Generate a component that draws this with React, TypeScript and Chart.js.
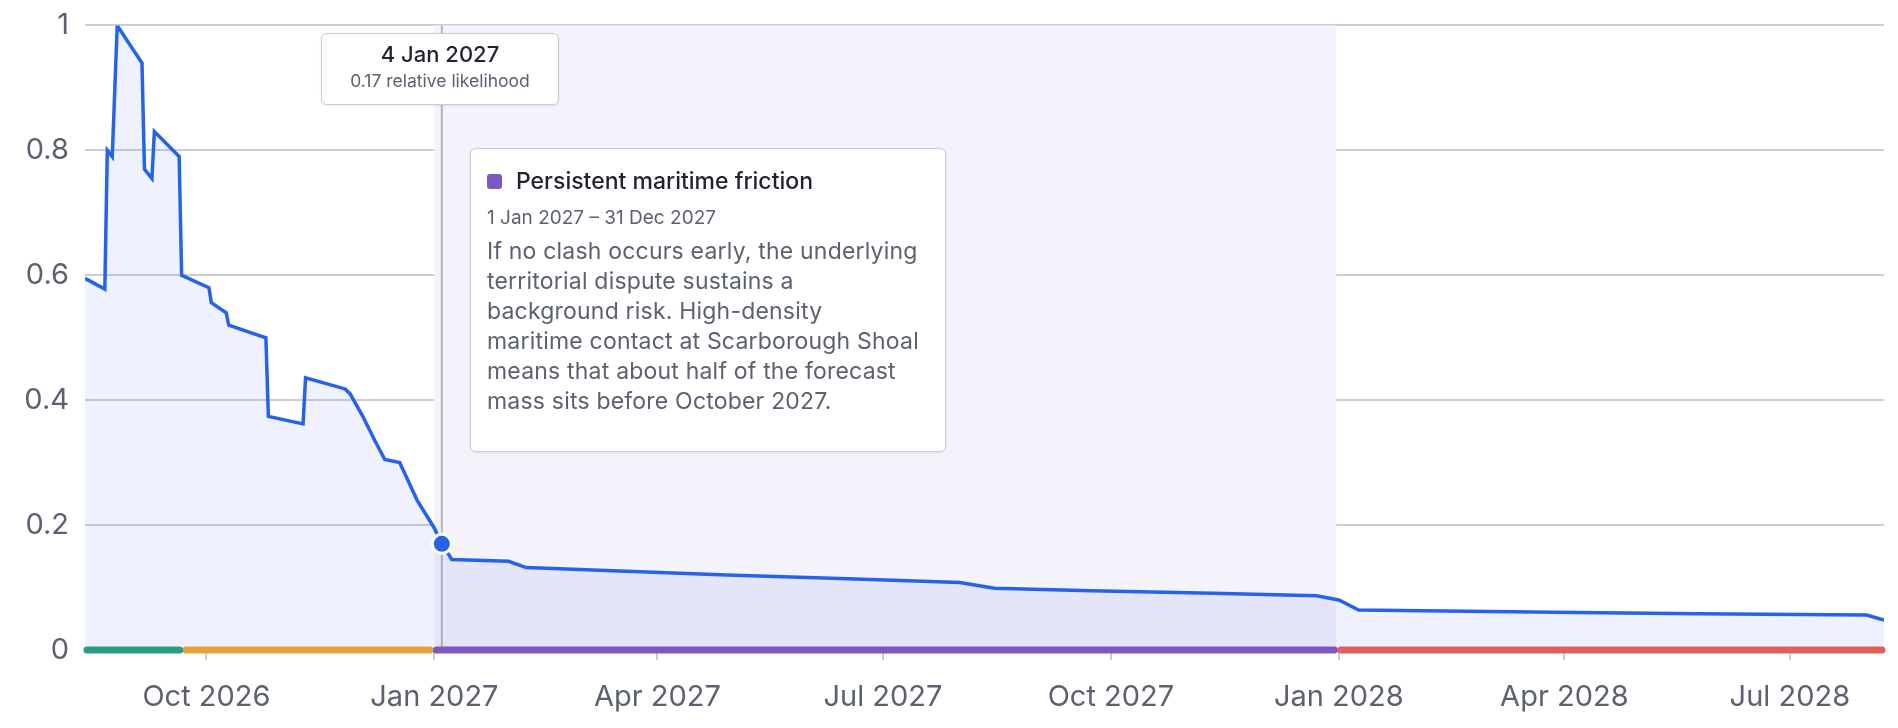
import React, { useEffect, useRef } from 'react';
import { Chart, registerables } from 'chart.js';

Chart.register(...registerables);

const dates = [
  '2026-08-13', '2026-08-21', '2026-08-22', '2026-08-24', '2026-08-26', '2026-09-05', '2026-09-06',
  '2026-09-09', '2026-09-10', '2026-09-20', '2026-09-21', '2026-10-02', '2026-10-03', '2026-10-09',
  '2026-10-10', '2026-10-25', '2026-10-26', '2026-11-09', '2026-11-10', '2026-11-26', '2026-11-28',
  '2026-12-03', '2026-12-08', '2026-12-12', '2026-12-18', '2026-12-20', '2026-12-25', '2027-01-01',
  '2027-01-04', '2027-01-08', '2027-01-31', '2027-02-07', '2027-04-29', '2027-06-17', '2027-08-01',
  '2027-08-15', '2027-09-23', '2027-11-11', '2027-12-23', '2028-01-01', '2028-01-09', '2028-04-06',
  '2028-05-25', '2028-08-01', '2028-08-08',
];
const likelihood = [
  0.595, 0.578, 0.8, 0.79, 1.0, 0.94, 0.77,
  0.755, 0.83, 0.79, 0.6, 0.58, 0.556, 0.54,
  0.52, 0.5, 0.374, 0.362, 0.436, 0.418, 0.41,
  0.375, 0.335, 0.305, 0.3, 0.283, 0.24, 0.195,
  0.17, 0.145, 0.142, 0.132, 0.12, 0.114, 0.108,
  0.099, 0.095, 0.091, 0.087, 0.08, 0.064, 0.06,
  0.058, 0.056, 0.048,
];
const phaseNames = ['Early clash', 'Escalation window', 'Persistent maritime friction', 'Long tail'];
const phaseStarts = ['2026-08-13', '2026-09-22', '2027-01-01', '2028-01-01'];
const phaseEnds = ['2026-09-21', '2026-12-31', '2027-12-31', '2028-08-08'];
const phaseColors = ['#2a9d83', '#e3a33a', '#7e57c2', '#e0605a'];
const tickDates = ['2026-10-01', '2027-01-01', '2027-04-01', '2027-07-01', '2027-10-01', '2028-01-01', '2028-04-01', '2028-07-01'];
const yTicks = [0, 0.2, 0.4, 0.6, 0.8, 1];
const hoverDate = '2027-01-04';
const noteLines = [
  'If no clash occurs early, the underlying',
  'territorial dispute sustains a',
  'background risk. High-density',
  'maritime contact at Scarborough Shoal',
  'means that about half of the forecast',
  'mass sits before October 2027.',
];

const MONTHS = ['Jan', 'Feb', 'Mar', 'Apr', 'May', 'Jun', 'Jul', 'Aug', 'Sep', 'Oct', 'Nov', 'Dec'];
const ts = (d: string) => Date.parse(d + 'T00:00:00Z');
const FONT = 'Inter, "Noto Sans", sans-serif';

const bandPlugin = {
  id: 'band',
  beforeDatasetsDraw(chart: any) {
    const { ctx, chartArea, scales } = chart;
    const x1 = scales.x.getPixelForValue(ts(phaseStarts[2]));
    const x2 = scales.x.getPixelForValue(ts(phaseEnds[2]));
    ctx.save();
    ctx.fillStyle = '#f4f2fa';
    ctx.fillRect(x1, chartArea.top, x2 - x1, chartArea.bottom - chartArea.top);
    const hx = scales.x.getPixelForValue(ts(hoverDate));
    ctx.strokeStyle = '#b5b5c2';
    ctx.lineWidth = 2;
    ctx.beginPath();
    ctx.moveTo(hx, chartArea.top);
    ctx.lineTo(hx, chartArea.bottom);
    ctx.stroke();
    ctx.restore();
  },
};

export default function App() {
  const chartRef = useRef<HTMLCanvasElement | null>(null);
  const chartInstanceRef = useRef<Chart | null>(null);

  useEffect(() => {
    if (!chartRef.current) return;
    const hi = dates.indexOf(hoverDate);
    const phaseSets = phaseNames.map((name, i) => ({
      label: name,
      data: [
        { x: ts(phaseStarts[i]) + 86400000 * 0.8, y: 0 },
        { x: ts(phaseEnds[i]) - 86400000 * 0.8, y: 0 },
      ],
      borderColor: phaseColors[i],
      borderWidth: 7,
      borderCapStyle: 'round' as const,
      pointRadius: 0,
      fill: false,
      clip: false as any,
      order: 0,
    }));
    chartInstanceRef.current = new Chart(chartRef.current, {
      type: 'line',
      data: {
        datasets: [
          ...phaseSets,
          {
            label: 'Relative likelihood',
            data: dates.map((d, i) => ({ x: ts(d), y: likelihood[i] })),
            borderColor: '#2563eb',
            borderWidth: 3.5,
            backgroundColor: 'rgba(70, 95, 240, 0.085)',
            fill: 'origin',
            tension: 0,
            pointRadius: dates.map((_, i) => (i === hi ? 9.5 : 0)),
            pointBackgroundColor: '#2563eb',
            pointBorderColor: '#ffffff',
            pointBorderWidth: 3,
            order: 1,
          },
        ],
      },
      options: {
        animation: false,
        responsive: true,
        maintainAspectRatio: false,
        layout: { padding: { top: 16, right: 6, bottom: 0, left: 0 } },
        plugins: { legend: { display: false }, tooltip: { enabled: false } },
        scales: {
          x: {
            type: 'linear',
            min: ts(dates[0]),
            max: ts(dates[dates.length - 1]),
            afterBuildTicks: (axis: any) => {
              axis.ticks = tickDates.map((d) => ({ value: ts(d) }));
            },
            afterFit: (axis: any) => { axis.height = 70; },
            ticks: {
              autoSkip: false,
              maxRotation: 0,
              color: '#5b6170',
              font: { size: 29, family: FONT },
              padding: 20,
              callback: (v: any) => {
                const d = new Date(v);
                return `${MONTHS[d.getUTCMonth()]} ${d.getUTCFullYear()}`;
              },
            },
            grid: { drawOnChartArea: false, color: '#c8cad3', lineWidth: 2, tickLength: 10 },
            border: { display: false },
          },
          y: {
            min: 0,
            max: 1,
            afterBuildTicks: (axis: any) => {
              axis.ticks = yTicks.map((v) => ({ value: v }));
            },
            afterFit: (axis: any) => { axis.width = 77; },
            ticks: {
              color: '#5b6170',
              font: { size: 29, family: FONT, lineHeight: 0.1 },
              padding: 16,
              callback: (v: any) => String(Math.round(v * 10) / 10),
            },
            grid: { color: '#cdcdd6', lineWidth: 2, drawTicks: false },
            border: { display: false },
          },
        },
      },
      plugins: [bandPlugin],
    });
    return () => {
      chartInstanceRef.current?.destroy();
    };
  }, []);

  const box: React.CSSProperties = {
    position: 'absolute',
    background: '#ffffff',
    border: '1.5px solid #c9cad2',
    borderRadius: 6,
    boxShadow: '0 1px 3px rgba(0,0,0,0.08)',
    fontFamily: FONT,
    boxSizing: 'border-box',
  };

  return (
    <div style={{ position: 'relative', width: 1882, height: 712 }}>
      <canvas ref={chartRef} />
      <div style={{ ...box, left: 313, top: 25, width: 238, height: 72, textAlign: 'center', paddingTop: 7 }}>
        <div style={{ fontSize: 22, fontWeight: 500, color: '#1f2330' }}>4 Jan 2027</div>
        <div style={{ fontSize: 17.5, color: '#5b6170', marginTop: 3 }}>0.17 relative likelihood</div>
      </div>
      <div style={{ ...box, left: 462, top: 140, width: 476, height: 304, padding: '18px 10px 0 16px' }}>
        <div style={{ display: 'flex', alignItems: 'center', fontSize: 23, fontWeight: 500, color: '#1f2330' }}>
          <span style={{ width: 15, height: 15, borderRadius: 3, background: '#7e57c2', marginRight: 14, display: 'inline-block' }} />
          Persistent maritime friction
        </div>
        <div style={{ fontSize: 19, color: '#5b6170', marginTop: 11 }}>1 Jan 2027 – 31 Dec 2027</div>
        <div style={{ fontSize: 23, letterSpacing: 0.2, color: '#5b6170', marginTop: 7, lineHeight: '30px' }}>
          {noteLines.map((l) => (
            <div key={l} style={{ whiteSpace: 'nowrap' }}>{l}</div>
          ))}
        </div>
      </div>
    </div>
  );
}
